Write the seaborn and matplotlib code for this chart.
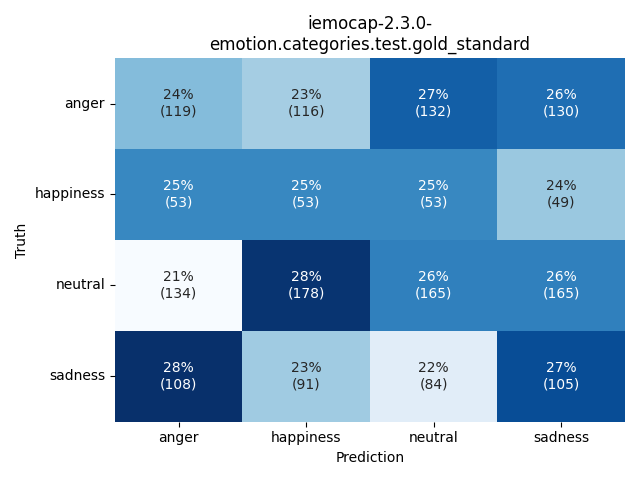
import numpy as np
import pandas as pd
import seaborn as sns
import matplotlib
matplotlib.use("Agg")
import matplotlib.pyplot as plt

# Confusion matrix counts (rows = truth, cols = prediction)
labels = ["anger", "happiness", "neutral", "sadness"]
anger_row = [119, 116, 132, 130]
happiness_row = [53, 53, 53, 49]
neutral_row = [134, 178, 165, 165]
sadness_row = [108, 91, 84, 105]

counts = np.array([anger_row, happiness_row, neutral_row, sadness_row])
percent = counts / counts.sum(axis=1, keepdims=True) * 100

annot = np.array([[f"{p:.0f}%\n({c})" for p, c in zip(prow, crow)]
                  for prow, crow in zip(percent, counts)])

df = pd.DataFrame(percent, index=labels, columns=labels)

fig, ax = plt.subplots(figsize=(6.4, 4.8), dpi=100)
sns.heatmap(df, annot=annot, fmt="", cmap="Blues", cbar=False, ax=ax)
ax.set_title("iemocap-2.3.0-\nemotion.categories.test.gold_standard")
ax.set_xlabel("Prediction")
ax.set_ylabel("Truth")
plt.yticks(rotation=0)
plt.tight_layout()
plt.savefig("out.png", dpi=100)
